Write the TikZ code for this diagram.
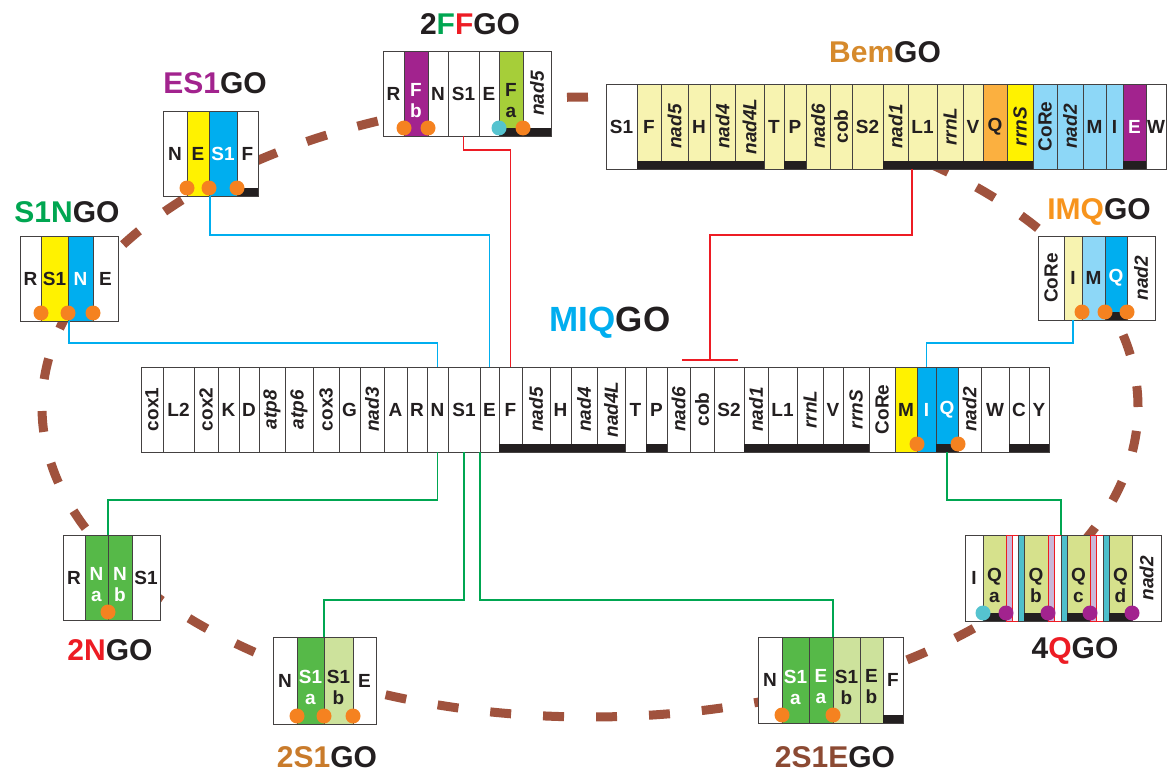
\documentclass[tikz,border=0pt]{standalone}
\usepackage{fontspec}
\setmainfont{Liberation Sans}
\definecolor{gblk}{HTML}{231F20}
\definecolor{gpy}{HTML}{F7F3B0}
\definecolor{glb}{HTML}{8DD7F7}
\definecolor{gbl}{HTML}{00AEEF}
\definecolor{gye}{HTML}{FFF200}
\definecolor{gpu}{HTML}{A2238E}
\definecolor{gfa}{HTML}{A6CE39}
\definecolor{ggn}{HTML}{56B948}
\definecolor{gpg}{HTML}{CDE29C}
\definecolor{gam}{HTML}{FBB040}
\definecolor{gqg}{HTML}{D6E18C}
\definecolor{glav}{HTML}{C9B8DA}
\definecolor{gteal}{HTML}{4DBFCC}
\definecolor{dotor}{HTML}{F58220}
\definecolor{dotcy}{HTML}{55C3CF}
\definecolor{ringbr}{HTML}{A0523D}
\definecolor{cRed}{HTML}{ED1C24}
\definecolor{cGreen}{HTML}{00A651}
\definecolor{tbem}{HTML}{D68A2C}
\definecolor{tss}{HTML}{C97B2B}
\definecolor{tse}{HTML}{8C4A33}
\definecolor{timq}{HTML}{F7941D}
\newcommand\geneblock[5]{%
  \foreach \b/\lab/\fc/\ty/\bd [remember=\b as \a (initially #4),count=\i] in {#5}{
    \node[gcol,\fc,minimum width={(\b-\a)*1pt},minimum height={(#3-#2)*1pt},
      label={[\ty,\fc,fill=none,draw=none]center:\lab}] (#1\i) at ({(\a+\b)/2},{(#2+#3)/2}) {};
    \ifnum\bd=1 \fill[gblk] ({\a},{#3-8}) rectangle ({\b},{#3}); \fi
  }%
}
\begin{document}
\begin{tikzpicture}[x=1pt,y=-1pt,
    gcol/.style={draw=gblk!85,line width=0.9pt,inner sep=0pt,outer sep=0pt},
    colw/.style={fill=white,text=gblk},
    colpy/.style={fill=gpy,text=gblk},
    collb/.style={fill=glb,text=gblk},
    colbl/.style={fill=gbl,text=white},
    colye/.style={fill=gye,text=gblk},
    colpu/.style={fill=gpu,text=white},
    colfa/.style={fill=gfa,text=gblk},
    colgn/.style={fill=ggn,text=white},
    colpg/.style={fill=gpg,text=gblk},
    colam/.style={fill=gam,text=gblk},
    colqg/.style={fill=gqg,text=gblk},
    collav/.style={fill=glav,draw=cRed},
    colrw/.style={fill=white,draw=cRed},
    colteal/.style={fill=gteal},
    txl/.style={align=center,inner sep=1pt,font=\fontsize{19}{21}\selectfont\bfseries},
    txw/.style={txl,yshift=-7pt},
    txi/.style={align=center,rotate=90,font=\fontsize{19}{21}\selectfont\bfseries\itshape},
    txu/.style={align=center,rotate=90,font=\fontsize{19}{21}\selectfont\bfseries},
    ttl/.style={text=gblk,font=\fontsize{30}{30}\selectfont\bfseries},
    ring/.style={ringbr,line width=9pt,dash pattern=on 21pt off 32pt},
    lnb/.style={gbl,line width=1.5pt},
    lnr/.style={cRed,line width=1.5pt},
    lng/.style={cGreen,line width=1.5pt}]
  \useasboundingbox[fill=white] (0,0) rectangle (1168,773);
  \draw[ring] (590,407) ellipse [x radius=548pt,y radius=310pt];
  \geneblock{m}{367}{452}{141}{163/cox1/colw/txu/0, 194/L2/colw/txl/0, 218/cox2/colw/txu/0,
    239/K/colw/txl/0, 259/D/colw/txl/0, 285/atp8/colw/txi/0, 313/atp6/colw/txi/0,
    339/cox3/colw/txu/0, 360/G/colw/txl/0, 384/nad3/colw/txi/0, 407/A/colw/txl/0,
    427/R/colw/txl/0, 448/N/colw/txl/0, 480/S1/colw/txl/0, 499/E/colw/txl/0,
    522/F/colw/txl/1, 550/nad5/colw/txi/1, 571/H/colw/txl/1, 597/nad4/colw/txi/1,
    625/nad4L/colw/txi/1, 646/T/colw/txl/0, 667/P/colw/txl/1, 690/nad6/colw/txi/0,
    714/cob/colw/txu/0, 744/S2/colw/txl/0, 768/nad1/colw/txi/1, 797/L1/colw/txl/1,
    823/rrnL/colw/txi/1, 843/V/colw/txl/1, 869/rrnS/colw/txi/1, 895/CoRe/colw/txu/0,
    917/M/colye/txl/0, 936/I/colbl/txl/0, 958/Q/colbl/txl/1, 981/nad2/colw/txi/0,
    1009/W/colw/txl/0, 1029/C/colw/txl/1, 1049/Y/colw/txl/1}
  \geneblock{bem}{84}{169}{606}{637/S1/colw/txl/0, 661/F/colpy/txl/1, 688/nad5/colpy/txi/1,
    710/H/colpy/txl/1, 735/nad4/colpy/txi/1, 764/nad4L/colpy/txi/1, 784/T/colpy/txl/0,
    806/P/colpy/txl/1, 830/nad6/colpy/txi/0, 852/cob/colpy/txu/0, 883/S2/colpy/txl/0,
    908/nad1/colpy/txi/1, 937/L1/colpy/txl/1, 963/rrnL/colpy/txi/1, 983/V/colpy/txl/1,
    1007/Q/colam/txl/1, 1033/rrnS/colye/txi/1, 1057/CoRe/collb/txu/0, 1083/nad2/collb/txi/0,
    1106/M/collb/txl/0, 1123/I/collb/txl/0, 1146/E/colpu/txl/1, 1166/W/colw/txl/0}
  \geneblock{ff}{51}{136}{383}{404/R/colw/txl/0, 428/F\\b/colpu/txw/0, 448/N/colw/txl/0,
    479/S1/colw/txl/0, 499/E/colw/txl/0, 523/F\\a/colfa/txw/1, 551/nad5/colw/txi/1}
  \geneblock{es}{111}{196}{163}{187/N/colw/txl/0, 209/E/colye/txl/0, 237/S1/colbl/txl/0,
    258/F/colw/txl/1}
  \geneblock{sn}{236}{321}{20}{41/R/colw/txl/0, 68/S1/colye/txl/0, 93/N/colbl/txl/0,
    118/E/colw/txl/0}
  \geneblock{imq}{236}{320}{1038}{1064/CoRe/colw/txu/0, 1082/I/colpy/txl/0, 1105/M/collb/txl/0,
    1127/Q/colbl/txl/1, 1155/nad2/colw/txi/0}
  \geneblock{nn}{535}{620}{63}{85/R/colw/txl/0, 108/N\\a/colgn/txw/0, 132/N\\b/colgn/txw/0,
    160/S1/colw/txl/0}
  \geneblock{ss}{637}{724}{273}{297/N/colw/txl/0, 324/S1\\a/colgn/txw/0, 353/S1\\b/colpg/txw/0,
    376/E/colw/txl/0}
  \geneblock{se}{637}{723}{758}{782/N/colw/txl/0, 809/S1\\a/colgn/txw/0, 833/E\\a/colgn/txw/0,
    860/S1\\b/colpg/txw/0, 883/E\\b/colpg/txw/0, 903/F/colw/txl/1}
  \geneblock{qq}{535}{621}{965}{983/I/colw/txl/0, 1006/Q\\a/colqg/txw/1, 1012/{}/collav/txl/0,
    1018/{}/colrw/txl/0, 1024/{}/colteal/txl/0, 1048/Q\\b/colqg/txw/1, 1054/{}/collav/txl/0,
    1061/{}/colrw/txl/0, 1067/{}/colteal/txl/0, 1090/Q\\c/colqg/txw/1, 1096/{}/collav/txl/0,
    1103/{}/colrw/txl/0, 1109/{}/colteal/txl/0, 1132/Q\\d/colqg/txw/1, 1161/nad2/colw/txi/0}
  \foreach \n in {ff1,ff2,ff6,es1,es2,es3,sn1,sn2,sn3,imq2,imq3,imq4,m32,m34,nn2,ss1,ss2,ss3,se1,se3}
    \fill[dotor] ([yshift=8pt]\n.south east) circle (7.5pt);
  \foreach \n in {ff5,qq1}
    \fill[dotcy] ([yshift=8pt]\n.south east) circle (7.5pt);
  \foreach \n in {qq2,qq6,qq10,qq14}
    \fill[gpu] ([yshift=8pt]\n.south east) circle (7.5pt);
  \coordinate (tee) at (710,360);
  \draw[lnb] ([xshift=1pt]sn3.south west) -- ++(0,22) -| (m13.north);
  \draw[lnb] ([xshift=1pt]es3.south west) -- ++(0,39) -| (m15.north);
  \draw[lnb] (imq2.south) -- ++(0,23) -| (m33.north);
  \draw[lnr] (ff4.south) -- ++(0,14) -| (m16.north);
  \draw[lnr] ([xshift=4pt]bem13.south west) -- ++(0,66) -| (tee);
  \draw[lnr] ([xshift=-28pt]tee) -- ([xshift=28pt]tee);
  \draw[lng] (m13.south) -- ++(0,48) -| (nn2.north east);
  \draw[lng] (m14.south) -- ++(0,148) -| (ss2.north east);
  \draw[lng] (m14.south east) -- ++(0,148) -| (se3.north east);
  \draw[lng] (m34.south) -- ++(0,48) -| (qq8.north east);
  \node[ttl] (tff) at (470,24) {2\textcolor{cGreen}{F}\textcolor{cRed}{F}GO};
  \node[ttl] (tbem) at (885,52) {\textcolor{tbem}{Bem}GO};
  \node[ttl] (tes) at (215,83) {\textcolor{gpu}{ES1}GO};
  \node[ttl] (tsn) at (67,212) {\textcolor{cGreen}{S1N}GO};
  \node[ttl] (timq) at (1099,212) {\textcolor{timq}{IMQ}GO};
  \node[ttl,font=\fontsize{35}{35}\selectfont\bfseries] (tm) at (610,323) {\textcolor{gbl}{MIQ}GO};
  \node[ttl] (tnn) at (110,650) {\textcolor{cRed}{2N}GO};
  \node[ttl] (tqq) at (1075,651) {4\textcolor{cRed}{Q}GO};
  \node[ttl] (tss) at (327,757) {\textcolor{tss}{2S1}GO};
  \node[ttl] (tse) at (835,757) {\textcolor{tse}{2S1E}GO};
\end{tikzpicture}
\end{document}
